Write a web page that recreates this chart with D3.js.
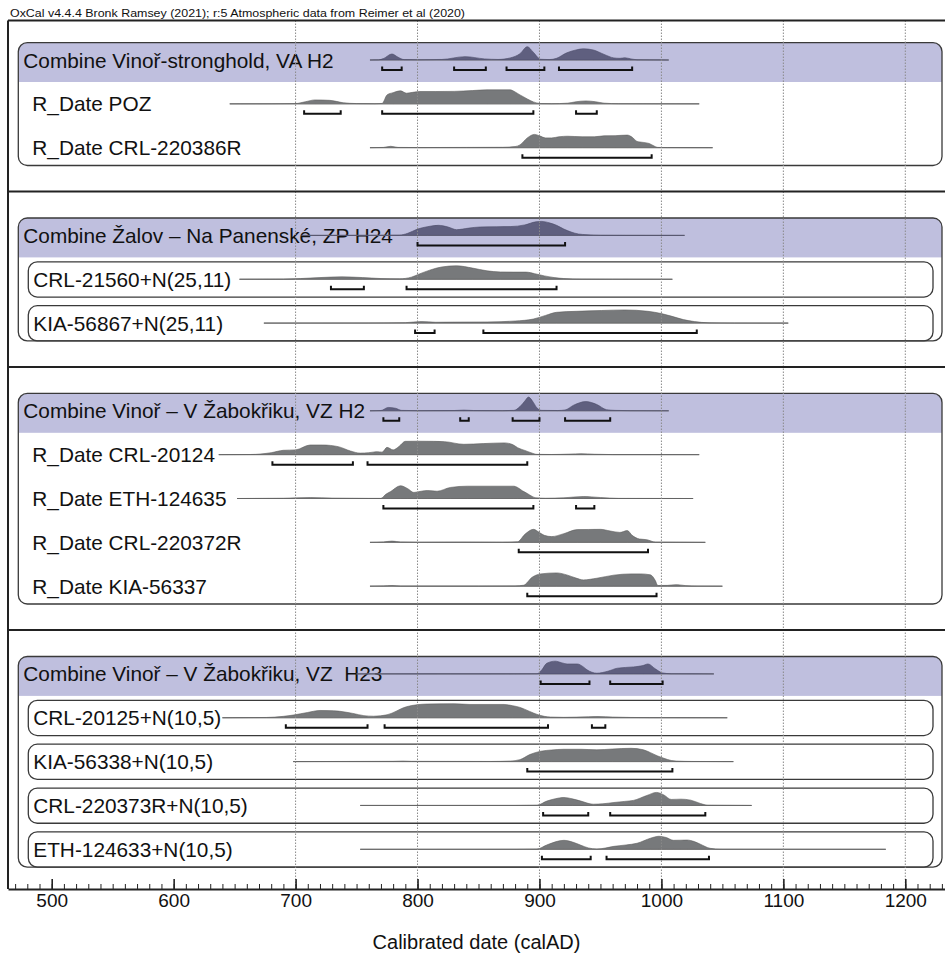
<!DOCTYPE html>
<html lang="en">
<head>
<meta charset="utf-8">
<title>OxCal multiplot</title>
<script src="https://cdn.jsdelivr.net/npm/d3@7"></script>
<style>
  body { margin: 0; background: #fff; }
  svg { display: block; font-family: "Liberation Sans", Arial, sans-serif; }
</style>
</head>
<body>
<script>
// ---- texts and ticks ----
var headerText = "OxCal v4.4.4 Bronk Ramsey (2021); r:5 Atmospheric data from Reimer et al (2020)";
var axisTitle = "Calibrated date (calAD)";
var majorTicks = [500, 600, 700, 800, 900, 1000, 1100, 1200];
var gridYears = [700, 800, 900, 1000, 1100, 1200];

var rowLabels = [
  "Combine Vinoř-stronghold, VA H2", "R_Date POZ", "R_Date CRL-220386R",
  "Combine Žalov – Na Panenské, ZP H24", "CRL-21560+N(25,11)", "KIA-56867+N(25,11)",
  "Combine Vinoř – V Žabokřiku, VZ H2", "R_Date CRL-20124", "R_Date ETH-124635",
  "R_Date CRL-220372R", "R_Date KIA-56337",
  "Combine Vinoř – V Žabokřiku, VZ  H23", "CRL-20125+N(10,5)", "KIA-56338+N(10,5)",
  "CRL-220373R+N(10,5)", "ETH-124633+N(10,5)"
];

// ---- distributions: [calAD, relative probability %] ----
var vaH2 = [[761,0],[768,1],[772,10],[779,43],[784,20],[789,3],[800,2],[820,4],[839,24],[855,8],[866,4],[876,15],[884,45],[890,95],[895,55],[901,5],[908,3],[914,12],[922,50],[930,72],[936,80],[944,72],[953,40],[961,15],[966,12],[970,16],[975,8],[980,2],[990,1],[1006,0]];
var vaPOZ = [[646,0],[680,0.5],[700,2],[708,15],[716,28],[728,25],[739,8],[750,2],[765,1],[771,3],[775,64],[780,80],[786,93],[791,76],[796,82],[802,88],[815,88],[830,89],[845,95],[857,100],[876,100],[880,85],[884,64],[890,35],[895,14],[901,2],[910,1],[923,5],[930,15],[938,21],[946,15],[953,5],[965,1],[1000,0.3],[1031,0]];
var vaCRL220386R = [[761,0],[772,2],[778,10],[784,2],[800,1],[840,2],[870,3],[880,8],[884,20],[890,70],[896,95],[900,85],[905,70],[910,70],[916,78],[923,82],[935,78],[945,78],[953,85],[962,86],[972,90],[976,75],[980,45],[985,38],[990,30],[994,12],[997,2],[1005,1],[1042,0]];

var zpH24 = [[705,0],[760,0.5],[785,2],[792,15],[800,45],[808,62],[817,72],[825,60],[832,41],[842,52],[851,60],[865,62],[876,63],[888,75],[897,97],[902,100],[908,90],[914,72],[920,45],[926,24],[932,10],[939,5],[950,1],[970,0.3],[1019,0]];
var zpCRL21560 = [[654,0],[690,1],[704,5],[720,12],[738,17],[755,12],[770,5],[785,3],[795,15],[801,36],[810,65],[820,88],[832,96],[845,80],[857,60],[868,52],[879,51],[889,51],[896,40],[904,24],[912,12],[920,5],[935,1],[960,0.3],[1009,0]];
var zpKIA56867 = [[674,0],[760,1],[790,3],[803,11],[815,6],[830,7],[857,8],[880,15],[895,29],[905,55],[914,77],[930,84],[951,90],[970,94],[989,84],[1000,68],[1008,50],[1018,25],[1027,11],[1039,2],[1060,0.5],[1104,0]];

var vzH2 = [[761,0],[770,2],[776,24],[782,18],[787,3],[800,1],[830,2],[838,5],[846,2],[870,1],[879,3],[884,30],[888,70],[891,98],[895,60],[898,20],[902,3],[915,2],[921,6],[928,40],[938,66],[947,45],[955,8],[962,3],[975,1],[1006,0]];
var vzCRL20124 = [[637,0],[663,1],[680,14],[690,31],[700,34],[712,69],[722,69],[735,57],[745,26],[753,11],[760,14],[767,21],[771,18],[775,52],[780,34],[785,60],[790,95],[800,96],[813,95],[822,93],[838,74],[854,79],[871,84],[878,72],[882,50],[888,30],[893,14],[898,2],[910,1],[925,4],[934,7],[945,3],[960,0.5],[1031,0]];
var vzETH124635 = [[652,0],[690,2],[712,7],[730,3],[760,1],[770,1],[774,30],[778,50],[786,91],[792,70],[797,43],[803,52],[808,57],[816,52],[827,79],[841,88],[860,88],[879,88],[882,79],[886,55],[890,36],[894,15],[897,5],[905,2],[920,5],[936,14],[950,7],[965,1],[1026,0]];
var vzCRL220372R = [[761,0],[772,3],[779,9],[786,3],[800,1],[838,2],[870,1],[882,4],[888,57],[895,93],[900,70],[904,50],[910,41],[920,62],[931,91],[940,92],[950,93],[958,81],[966,71],[972,84],[976,50],[982,24],[988,19],[995,2],[1036,0]];
var vzKIA56337 = [[761,0],[772,2],[779,5],[786,1],[850,1],[880,2],[887,7],[894,64],[901,88],[914,95],[923,79],[930,58],[936,45],[947,57],[961,79],[975,88],[983,88],[991,81],[995,40],[997,5],[1005,6],[1012,11],[1020,4],[1030,0.5],[1050,0]];

var vzH23 = [[750,0],[880,0.3],[898,1],[902,30],[906,76],[913,91],[918,80],[923,71],[931,71],[936,50],[939,29],[943,12],[947,5],[956,19],[964,41],[977,50],[985,60],[989,71],[995,36],[1001,7],[1008,1],[1043,0]];
var vzCRL20125 = [[640,0],[676,2],[690,10],[698,19],[710,38],[720,52],[731,50],[747,31],[756,15],[764,11],[775,21],[791,79],[808,98],[830,100],[843,95],[871,95],[878,86],[884,74],[892,45],[898,24],[904,10],[909,5],[920,3],[940,7],[948,9],[960,5],[990,1],[1054,0]];
var vzKIA56338 = [[698,0],[780,2],[788,4],[795,2],[860,1],[876,4],[884,14],[892,50],[901,74],[910,83],[920,88],[934,88],[947,84],[960,90],[975,95],[985,85],[991,64],[997,40],[1002,24],[1008,8],[1012,4],[1025,1],[1059,0]];
var vzCRL220373R = [[753,0],[880,0.3],[898,2],[906,31],[913,48],[920,57],[927,47],[934,31],[944,9],[952,12],[961,21],[970,29],[977,36],[988,71],[996,93],[1002,75],[1008,43],[1016,45],[1024,38],[1032,14],[1038,2],[1074,0]];
var vzETH124633 = [[753,0],[880,0.3],[898,2],[906,31],[920,64],[927,52],[934,29],[940,10],[947,2],[954,9],[961,21],[971,31],[980,43],[991,79],[998,93],[1004,84],[1010,64],[1016,65],[1021,66],[1027,55],[1032,36],[1040,7],[1049,0.5],[1184,0]];

// ---- highest probability ranges (calAD) ----
var vaH2Ranges = [[771,787],[830,856],[873,904],[916,976]];
var vaPOZRanges = [[707,737],[771,895],[930,947]];
var vaCRL220386RRanges = [[886,992]];
var zpH24Ranges = [[800,921]];
var zpCRL21560Ranges = [[729,756],[791,914]];
var zpKIA56867Ranges = [[798,814],[854,1029]];
var vzH2Ranges = [[772,785],[835,842],[878,900],[921,958]];
var vzCRL20124Ranges = [[681,747],[759,890]];
var vzETH124635Ranges = [[772,895],[930,945]];
var vzCRL220372RRanges = [[883,989]];
var vzKIA56337Ranges = [[890,996]];
var vzH23Ranges = [[901,941],[958,1001]];
var vzCRL20125Ranges = [[692,759],[773,907],[943,954]];
var vzKIA56338Ranges = [[890,1009]];
var vzCRL220373RRanges = [[903,940],[958,1036]];
var vzETH124633Ranges = [[902,942],[955,1039]];

// ---- layout: slot on the row grid + kind of row ----
var rows = [
  {slot: 0, kind: "combine", dist: vaH2, ranges: vaH2Ranges},
  {slot: 1, kind: "date", dist: vaPOZ, ranges: vaPOZRanges},
  {slot: 2, kind: "date", dist: vaCRL220386R, ranges: vaCRL220386RRanges},
  {slot: 4, kind: "combine", dist: zpH24, ranges: zpH24Ranges},
  {slot: 5, kind: "boxed", dist: zpCRL21560, ranges: zpCRL21560Ranges},
  {slot: 6, kind: "boxed", dist: zpKIA56867, ranges: zpKIA56867Ranges},
  {slot: 8, kind: "combine", dist: vzH2, ranges: vzH2Ranges},
  {slot: 9, kind: "date", dist: vzCRL20124, ranges: vzCRL20124Ranges},
  {slot: 10, kind: "date", dist: vzETH124635, ranges: vzETH124635Ranges},
  {slot: 11, kind: "date", dist: vzCRL220372R, ranges: vzCRL220372RRanges},
  {slot: 12, kind: "date", dist: vzKIA56337, ranges: vzKIA56337Ranges},
  {slot: 14, kind: "combine", dist: vzH23, ranges: vzH23Ranges},
  {slot: 15, kind: "boxed", dist: vzCRL20125, ranges: vzCRL20125Ranges},
  {slot: 16, kind: "boxed", dist: vzKIA56338, ranges: vzKIA56338Ranges},
  {slot: 17, kind: "boxed", dist: vzCRL220373R, ranges: vzCRL220373RRanges},
  {slot: 18, kind: "boxed", dist: vzETH124633, ranges: vzETH124633Ranges}
];
rows.forEach(function (r, i) { r.label = rowLabels[i]; });

var groups = [[0, 2], [4, 6], [8, 12], [14, 18]];
var separators = [3, 7, 13];

var W = 945, H = 954;
var frameLeft = 8, frameTop = 20.5, frameBottom = 889;
var boxLeft = 18.3, boxRight = 942, subLeft = 28.3, subRight = 933;

var svg = d3.select("body").append("svg")
  .attr("width", W)
  .attr("height", H);

var x = d3.scaleLinear().domain([500, 1200]).range([51.7, 905.3]);
var y = d3.scaleLinear().domain([0, 18]).range([60, 849.3]);
var h = d3.scaleLinear().domain([0, 100]).range([0, 14]);

// title line
svg.append("text")
  .attr("x", 10).attr("y", 17.3)
  .attr("font-size", 10)
  .attr("textLength", 455)
  .attr("lengthAdjust", "spacingAndGlyphs")
  .attr("fill", "#111")
  .text(headerText);

// group boxes with lavender header bands
groups.forEach(function (g, i) {
  var top = y(g[0]) - 17.4, bottom = y(g[1]) + 17.8;
  svg.append("clipPath").attr("id", "gclip" + i)
    .append("rect")
    .attr("x", boxLeft).attr("y", top)
    .attr("width", boxRight - boxLeft).attr("height", bottom - top)
    .attr("rx", 9);
  svg.append("rect")
    .attr("clip-path", "url(#gclip" + i + ")")
    .attr("x", boxLeft).attr("y", top)
    .attr("width", boxRight - boxLeft).attr("height", 39.4)
    .attr("fill", "#bfbfde");
  svg.append("rect")
    .attr("x", boxLeft).attr("y", top)
    .attr("width", boxRight - boxLeft).attr("height", bottom - top)
    .attr("rx", 9)
    .attr("fill", "none")
    .attr("stroke", "#3a3a3a")
    .attr("stroke-width", 1.3);
});

// inner boxes for the offset dates
svg.selectAll("rect.sub")
  .data(rows.filter(function (r) { return r.kind === "boxed"; }))
  .enter().append("rect")
  .attr("class", "sub")
  .attr("x", subLeft)
  .attr("y", function (r) { return y(r.slot) - 17.4; })
  .attr("width", subRight - subLeft)
  .attr("height", 35.2)
  .attr("rx", 9)
  .attr("fill", "none")
  .attr("stroke", "#3a3a3a")
  .attr("stroke-width", 1.3);

// labels
svg.selectAll("text.lab")
  .data(rows)
  .enter().append("text")
  .attr("class", "lab")
  .attr("x", function (r) { return r.kind === "combine" ? 23.3 : (r.kind === "date" ? 32.3 : 33.3); })
  .attr("y", function (r) { return y(r.slot) + 7.5; })
  .attr("font-size", 20.8)
  .attr("fill", "#111")
  .style("white-space", "pre")
  .text(function (r) { return r.label; });

// baselines
svg.selectAll("line.base")
  .data(rows)
  .enter().append("line")
  .attr("class", "base")
  .attr("x1", function (r) { return x(r.dist[0][0]); })
  .attr("x2", function (r) { return x(r.dist[r.dist.length - 1][0]); })
  .attr("y1", function (r) { return y(r.slot); })
  .attr("y2", function (r) { return y(r.slot); })
  .attr("stroke", "#8c8c8c")
  .attr("stroke-width", 1);

// probability distributions
rows.forEach(function (r) {
  var base = y(r.slot);
  var area = d3.area()
    .x(function (d) { return x(d[0]); })
    .y0(base)
    .y1(function (d) { return base - h(d[1]); })
    .curve(d3.curveMonotoneX);
  svg.append("path")
    .datum(r.dist)
    .attr("d", area)
    .attr("fill", r.kind === "combine" ? "#5f5f7f" : "#77797b")
    .attr("stroke", r.kind === "combine" ? "#4a4a66" : "#5c5c5c")
    .attr("stroke-width", 0.6);
});

// dotted century grid
svg.selectAll("line.grid")
  .data(gridYears)
  .enter().append("line")
  .attr("class", "grid")
  .attr("x1", function (d) { return x(d); })
  .attr("x2", function (d) { return x(d); })
  .attr("y1", frameTop)
  .attr("y2", frameBottom)
  .attr("stroke", "#8a8a8a")
  .attr("stroke-width", 1)
  .attr("stroke-dasharray", "1.5,1.5");

// range brackets
rows.forEach(function (r) {
  var yb = y(r.slot) + 10;
  svg.selectAll(null)
    .data(r.ranges)
    .enter().append("path")
    .attr("d", function (d) {
      return "M" + x(d[0]) + "," + (yb - 3.5) + "V" + yb + "H" + x(d[1]) + "V" + (yb - 3.5);
    })
    .attr("fill", "none")
    .attr("stroke", "#111")
    .attr("stroke-width", 2);
});

// frame and section separators
svg.append("line")
  .attr("x1", frameLeft).attr("x2", W)
  .attr("y1", frameTop).attr("y2", frameTop)
  .attr("stroke", "#222").attr("stroke-width", 2);
svg.append("line")
  .attr("x1", frameLeft).attr("x2", frameLeft)
  .attr("y1", frameTop).attr("y2", frameBottom)
  .attr("stroke", "#222").attr("stroke-width", 2);
svg.selectAll("line.sep")
  .data(separators)
  .enter().append("line")
  .attr("class", "sep")
  .attr("x1", frameLeft).attr("x2", W)
  .attr("y1", function (d) { return y(d); })
  .attr("y2", function (d) { return y(d); })
  .attr("stroke", "#222")
  .attr("stroke-width", 2);

// axis
var xAxisScale = x.copy().domain([x.invert(frameLeft), x.invert(W)]).range([frameLeft, W]);
var minorTicks = d3.range(470, 1231, 10);

svg.append("g")
  .attr("transform", "translate(0," + frameBottom + ")")
  .call(d3.axisBottom(xAxisScale).tickValues(minorTicks).tickSizeInner(-5).tickSizeOuter(0).tickFormat(""))
  .call(function (g) { g.select(".domain").remove(); })
  .call(function (g) { g.selectAll("line").attr("stroke", "#222").attr("stroke-width", 1); });

svg.append("g")
  .attr("transform", "translate(0," + frameBottom + ")")
  .call(d3.axisBottom(xAxisScale).tickValues(majorTicks).tickSizeInner(-10).tickSizeOuter(0).tickPadding(5).tickFormat(d3.format("d")))
  .call(function (g) {
    g.select(".domain").attr("stroke", "#222").attr("stroke-width", 2);
    g.selectAll("line").attr("stroke", "#222").attr("stroke-width", 1.6);
    g.selectAll("text")
      .attr("font-family", "'Liberation Sans', Arial, sans-serif")
      .attr("font-size", 19)
      .attr("fill", "#111");
  });

svg.append("text")
  .attr("x", 476.5).attr("y", 949)
  .attr("text-anchor", "middle")
  .attr("font-size", 20)
  .attr("fill", "#111")
  .text(axisTitle);
</script>
</body>
</html>
